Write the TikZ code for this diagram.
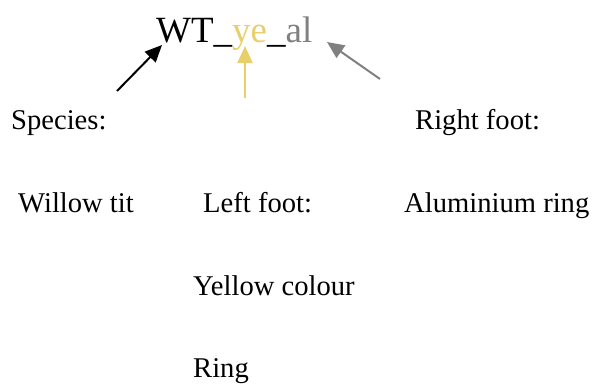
\documentclass[tikz,border=0pt]{standalone}
\usepackage{fontspec}
\setmainfont{Liberation Serif}
\usetikzlibrary{arrows.meta}
\definecolor{ringyellow}{HTML}{E8CF6C}
\definecolor{ringgray}{HTML}{808080}
\begin{document}
\begin{tikzpicture}[x=1bp,y=-1bp,
  txt/.style={anchor=base west, inner sep=0pt, font=\fontsize{28.6bp}{34bp}\selectfont},
  ttl/.style={anchor=base west, inner sep=0pt, font=\fontsize{37bp}{44bp}\selectfont},
  pointer/.style={line width=2bp, -{Triangle[length=17bp,width=15bp]}}]
\useasboundingbox (0,0) rectangle (594,385);
\node[ttl] (title) at (156,42) {WT\_\textcolor{ringyellow}{ye}\_\textcolor{ringgray}{al}};
\node[txt] (species) at (11,129) {Species:};
\node[txt] (rightfoot) at (415,129) {Right foot:};
\node[txt] (willow) at (18,212) {Willow tit};
\node[txt] (leftfoot) at (203,212) {Left foot:};
\node[txt] (alu) at (404,212) {Aluminium ring};
\node[txt] (yellowc) at (193,295) {Yellow colour};
\node[txt] (ring) at (193,377) {Ring};
\coordinate (a1s) at (117,91); \coordinate (a1e) at (162,45);
\coordinate (a2s) at (245,98); \coordinate (a2e) at (245,46);
\coordinate (a3s) at (380,79); \coordinate (a3e) at (327,42);
\draw[pointer, black] (a1s) -- (a1e);
\draw[pointer, ringyellow] (a2s) -- (a2e);
\draw[pointer, ringgray] (a3s) -- (a3e);
\end{tikzpicture}
\end{document}
